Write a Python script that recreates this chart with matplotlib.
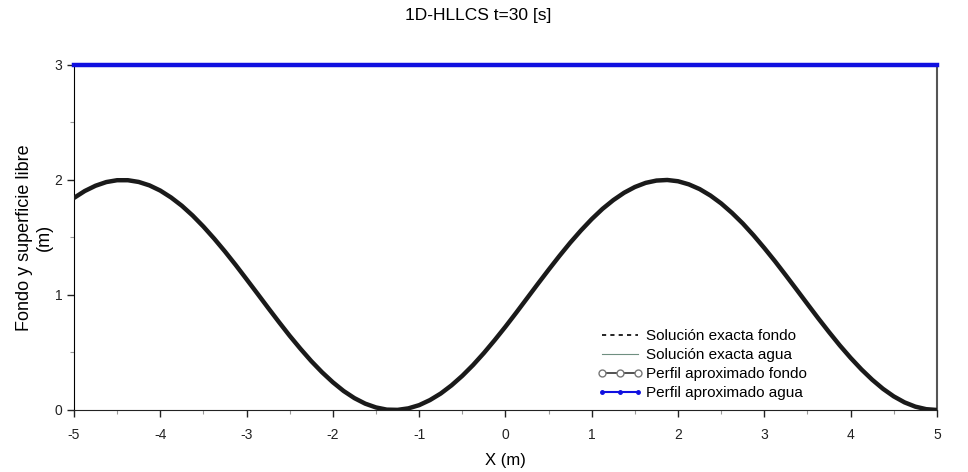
import matplotlib
matplotlib.use('Agg')
import matplotlib.pyplot as plt
from matplotlib.lines import Line2D
from matplotlib.ticker import MultipleLocator

plt.rcParams['font.family'] = ['Liberation Sans', 'DejaVu Sans']
plt.rcParams['axes.unicode_minus'] = False

# --- datos del perfil (paso 0.125 m) ---
x_pos = [-5.0, -4.875, -4.75, -4.625, -4.5, -4.375, -4.25, -4.125,
         -4.0, -3.875, -3.75, -3.625, -3.5, -3.375, -3.25, -3.125,
         -3.0, -2.875, -2.75, -2.625, -2.5, -2.375, -2.25, -2.125,
         -2.0, -1.875, -1.75, -1.625, -1.5, -1.375, -1.25, -1.125,
         -1.0, -0.875, -0.75, -0.625, -0.5, -0.375, -0.25, -0.125,
         0.0, 0.125, 0.25, 0.375, 0.5, 0.625, 0.75, 0.875,
         1.0, 1.125, 1.25, 1.375, 1.5, 1.625, 1.75, 1.875,
         2.0, 2.125, 2.25, 2.375, 2.5, 2.625, 2.75, 2.875,
         3.0, 3.125, 3.25, 3.375, 3.5, 3.625, 3.75, 3.875,
         4.0, 4.125, 4.25, 4.375, 4.5, 4.625, 4.75, 4.875, 5.0]
fondo = [1.844, 1.904, 1.950, 1.982, 1.998, 1.998, 1.983, 1.953,
         1.908, 1.848, 1.776, 1.691, 1.595, 1.490, 1.378, 1.260,
         1.137, 1.013, 0.888, 0.765, 0.645, 0.532, 0.425, 0.328,
         0.241, 0.165, 0.103, 0.055, 0.022, 0.003, 0.001, 0.014,
         0.042, 0.086, 0.143, 0.214, 0.297, 0.391, 0.495, 0.607,
         0.724, 0.846, 0.971, 1.096, 1.219, 1.339, 1.454, 1.561,
         1.660, 1.749, 1.825, 1.889, 1.939, 1.975, 1.995, 2.000,
         1.989, 1.962, 1.921, 1.865, 1.796, 1.714, 1.622, 1.519,
         1.408, 1.292, 1.170, 1.046, 0.921, 0.797, 0.677, 0.561,
         0.453, 0.353, 0.263, 0.184, 0.118, 0.066, 0.029, 0.007, 0.000]
nivel_agua = 3.0
agua = [nivel_agua] * len(x_pos)

titulo = '1D-HLLCS t=30 [s]'
etiquetas = ['Solución exacta fondo', 'Solución exacta agua',
             'Perfil aproximado fondo', 'Perfil aproximado agua']

fig = plt.figure(figsize=(9.68, 4.72), dpi=100)
ax = fig.add_axes([0.0764, 0.1314, 0.8915, 0.7309])

# solucion exacta
ax.plot(x_pos, agua, color='#6f8f80', lw=0.8, zorder=2)
ax.plot(x_pos, fondo, color='black', lw=1.2, ls=(0, (2.5, 2.5)), zorder=2)
# perfil aproximado
ax.plot(x_pos, fondo, color='#1a1a1a', lw=3.2, solid_capstyle='round',
        solid_joinstyle='round', zorder=3)
ax.plot(x_pos, agua, color='#1010e0', lw=3.2, zorder=4, clip_on=False)

ax.set_xlim(-5, 5)
ax.set_ylim(0, 3)
ax.xaxis.set_major_locator(MultipleLocator(1))
ax.xaxis.set_minor_locator(MultipleLocator(0.5))
ax.yaxis.set_major_locator(MultipleLocator(1))
ax.yaxis.set_minor_locator(MultipleLocator(0.5))
ax.tick_params(which='major', direction='out', length=5, width=1, labelsize=10,
               colors='#222222')
ax.tick_params(axis='x', which='major', pad=8)
ax.tick_params(which='minor', direction='out', length=3, width=0.8, color='#999999')
ax.tick_params(top=False, right=False, which='both')

ax.spines['top'].set_visible(False)
ax.spines['left'].set_color('black')
ax.spines['bottom'].set_color('#222222')
ax.spines['right'].set_color('#555555')
ax.spines['right'].set_linewidth(1.5)

ax.set_xlabel('X (m)', fontsize=12, labelpad=8)
ax.set_ylabel('Fondo y superficie libre\n(m)', fontsize=13, labelpad=1, linespacing=1.25)
fig.text(0.494, 0.967, titulo, ha='center', va='center', fontsize=12.5)

handles = [
    Line2D([], [], color='black', lw=1.2, ls=(0, (2.5, 2.5))),
    Line2D([], [], color='#6f8f80', lw=0.8),
    Line2D([], [], color='#333333', lw=1.2, marker='o', mfc='white', mec='#777777', ms=5),
    Line2D([], [], color='#1010e0', lw=1.5, marker='o', ms=2.5),
]
ax.legend(handles, etiquetas, loc='lower left', bbox_to_anchor=(0.607, 0.029),
          frameon=False, fontsize=11, handlelength=2.95, handletextpad=0.2,
          labelspacing=0.32, borderaxespad=0, borderpad=0, numpoints=3)

fig.savefig('out.png', dpi=100)
